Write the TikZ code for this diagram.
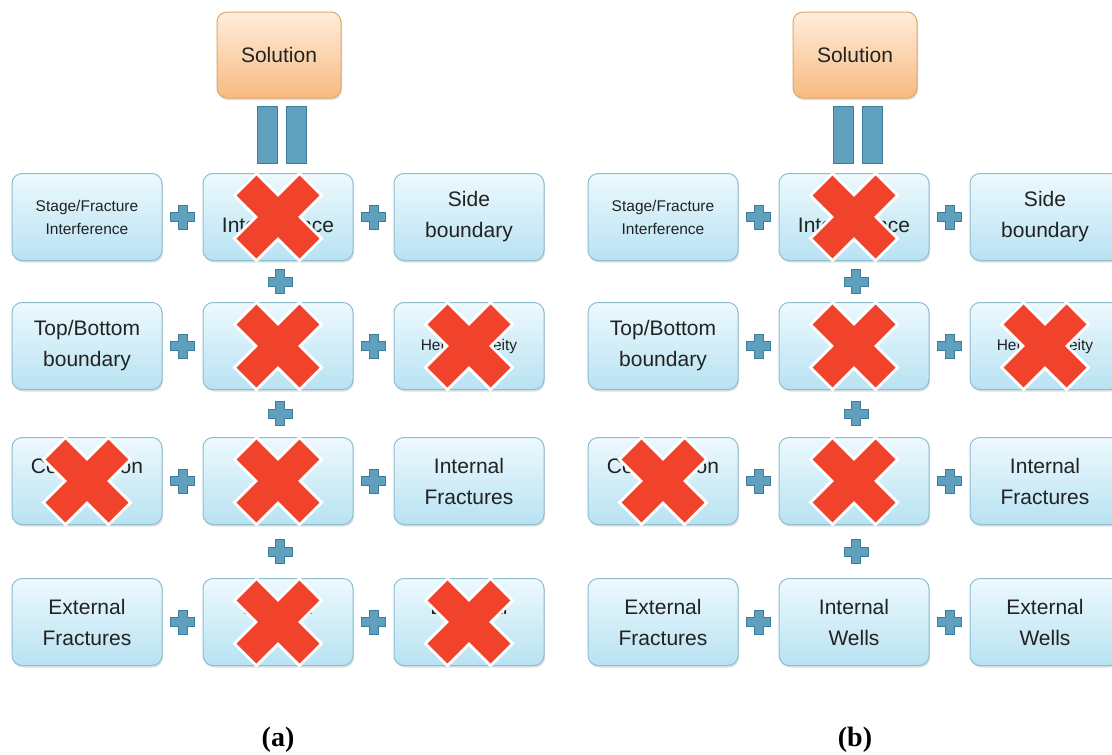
\documentclass[tikz,border=0pt]{standalone}
\usepackage{fontspec}
\setmainfont{Liberation Sans}
\newfontfamily\serifbold{Liberation Serif}
\usetikzlibrary{calc,shadows}
\definecolor{boxtop}{HTML}{EDF9FD}
\definecolor{boxbot}{HTML}{B8E2F2}
\definecolor{boxedge}{HTML}{8FBDD0}
\definecolor{soltop}{HTML}{FEEEDC}
\definecolor{solbot}{HTML}{F8BA80}
\definecolor{soledge}{HTML}{E3A56A}
\definecolor{plusfill}{HTML}{5FA0BE}
\definecolor{plusedge}{HTML}{3D7C9B}
\definecolor{xred}{HTML}{F1432C}
\definecolor{txt}{HTML}{222222}
\tikzset{
  box/.style={draw=boxedge, line width=1pt, rounded corners=10pt,
    top color=boxtop, bottom color=boxbot, minimum width=150pt, minimum height=87pt,
    align=center, text=txt, font=\fontsize{21}{31}\selectfont,
    drop shadow={shadow xshift=1pt, shadow yshift=-2pt, opacity=0.25}},
  smalltext/.style={font=\fontsize{15.5}{23}\selectfont},
  solbox/.style={draw=soledge, line width=1pt, rounded corners=10pt,
    top color=soltop, bottom color=solbot, minimum width=124pt, minimum height=86pt,
    text=txt, font=\fontsize{21}{31}\selectfont,
    drop shadow={shadow xshift=1pt, shadow yshift=-2pt, opacity=0.25}},
  eqbar/.style={draw=plusedge, fill=plusfill, line width=0.8pt, minimum width=20pt,
    minimum height=57pt, inner sep=0pt},
  plussign/.pic={\path[draw=plusedge, fill=plusfill, line width=0.8pt]
    (-12,-4.5)--(-4.5,-4.5)--(-4.5,-12)--(4.5,-12)--(4.5,-4.5)--(12,-4.5)--(12,4.5)
    --(4.5,4.5)--(4.5,12)--(-4.5,12)--(-4.5,4.5)--(-12,4.5)--cycle;},
  crossout/.pic={
    \draw[white, line width=34pt] (-33.5,-33.5)--(33.5,33.5) (-33.5,33.5)--(33.5,-33.5);
    \draw[xred, line width=28pt] (-31.5,-31.5)--(31.5,31.5) (-31.5,31.5)--(31.5,-31.5);},
  caption/.style={font=\serifbold\bfseries\fontsize{28}{30}\selectfont, text=black}
}
\newcommand\drawpanel[2]{%
  \node[solbox] (#1sol) at (#2+279,55) {Solution};
  \node[eqbar] (#1eqa) at (#2+267,134.5) {};
  \node[eqbar] (#1eqb) at (#2+296,134.5) {};
  \node[box,smalltext] (#1r1c1) at (#2+87,217) {Stage/Fracture\\Interference};
  \node[box] (#1r1c2) at (#2+278,217) {\mbox{}\\Interference};
  \node[box] (#1r1c3) at (#2+469,217) {Side\\boundary};
  \node[box] (#1r2c1) at (#2+87,346) {Top/Bottom\\boundary};
  \node[box] (#1r2c2) at (#2+278,346) {};
  \node[box,smalltext] (#1r2c3) at (#2+469,346) {Heterogeneity};
  \node[box] (#1r3c1) at (#2+87,481) {Compaction\\\mbox{}};
  \node[box] (#1r3c2) at (#2+278,481) {};
  \node[box] (#1r3c3) at (#2+469,481) {Internal\\Fractures};
  \node[box] (#1r4c1) at (#2+87,622) {External\\Fractures};
  \node[box] (#1r4c2) at (#2+278,622) {Internal\\Wells};
  \node[box] (#1r4c3) at (#2+469,622) {External\\Wells};
  \foreach \r in {1,2,3,4}{
    \pic at ($(#1r\r c1.east)!0.5!(#1r\r c2.west)$) {plussign};
    \pic at ($(#1r\r c2.east)!0.5!(#1r\r c3.west)$) {plussign};
  }
  \pic at ($(#1r1c2.south)!0.5!(#1r2c2.north)+(2,0)$) {plussign};
  \pic at ($(#1r2c2.south)!0.5!(#1r3c2.north)+(2,0)$) {plussign};
  \pic at ($(#1r3c2.south)!0.5!(#1r4c2.north)+(2,0)$) {plussign};
}
\begin{document}
\begin{tikzpicture}[x=1pt,y=-1pt]
\path[use as bounding box, fill=white] (0,0) rectangle (1112,755);
\clip (0,0) rectangle (1112,755);
\drawpanel{a}{0}
\drawpanel{b}{576}
% crosses of panel (a)
\foreach \n in {r1c2,r2c2,r2c3,r3c1,r3c2,r4c2,r4c3}{
  \pic at (a\n.center) {crossout};
}
% crosses of panel (b)
\foreach \n in {r1c2,r2c2,r2c3,r3c1,r3c2}{
  \pic at (b\n.center) {crossout};
}
\node[caption] (capa) at (278,740) {(a)};
\node[caption] (capb) at (855,740) {(b)};
\end{tikzpicture}
\end{document}
